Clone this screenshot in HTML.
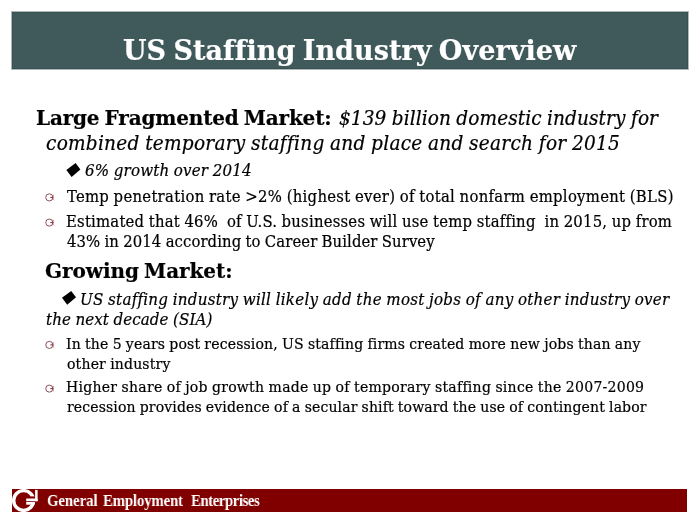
<!DOCTYPE html>
<html lang="en">
<head>
<meta charset="utf-8">
<title>US Staffing Industry Overview</title>
<style>
html,body{margin:0;padding:0;background:#fff;}
body{width:700px;height:525px;position:relative;overflow:hidden;font-family:"DejaVu Serif","Liberation Serif",serif;color:#000;}
.banner{position:absolute;left:12px;top:12px;width:676px;height:57px;background:#405a5c;box-shadow:inset 0 0 0 1px #38514f,0 0 0 1px rgba(56,81,79,.4);}
.foot{position:absolute;left:12px;top:489px;width:675px;height:23px;background:#800000;}
.t{will-change:transform;position:absolute;white-space:pre;line-height:1;margin:0;padding:0;font-weight:normal;font-style:normal;font-family:"DejaVu Serif Condensed","DejaVu Serif","Liberation Serif",serif;word-spacing:-0.03em;-webkit-text-stroke:0.2px #000;}
.title{font-family:"DejaVu Serif","Liberation Serif",serif;color:#fff;font-weight:bold;font-size:27px;word-spacing:-0.08em;-webkit-text-stroke:0.2px #fff;}
.h{font-family:"DejaVu Serif","Liberation Serif",serif;font-weight:bold;font-size:20px;word-spacing:-0.08em;}
.hi{font-style:italic;font-size:20.6px;}
.si{font-style:italic;font-size:16.8px;}
.r{font-size:16.5px;}
.r2{font-size:15.6px;}
.ft{font-family:"Liberation Serif",serif;font-weight:bold;color:#fff;font-size:17.2px;word-spacing:0;transform:scaleX(.86);transform-origin:0 0;-webkit-text-stroke:0;}

</style>
</head>
<body>
<div class="banner"></div>
<div class="foot"></div>
<svg class="x" width="700" height="525" viewBox="0 0 700 525" style="position:absolute;left:0;top:0" aria-hidden="true">
<defs>
<clipPath id="barclip"><rect x="12" y="489" width="675" height="23"/></clipPath>
<g id="gb" fill="none" stroke="#7a3340" stroke-width="0.85">
<circle cx="0" cy="0" r="3.55"/>
<path d="M1 0H3.9" stroke="#8a2436" stroke-width="1"/>
<path d="M3.9 -2.8V2.8" stroke="#a05a5a" stroke-width="0.7"/>
</g>
<polygon id="dm" points="0,6.9 9.2,0 14,6.3 5.2,13.8"/>
</defs>
<use href="#dm" x="66.4" y="163.1" fill="#000"/>
<use href="#dm" x="62" y="290.9" fill="#000"/>
<use href="#gb" x="49.3" y="197.4"/>
<use href="#gb" x="49.3" y="222.6"/>
<use href="#gb" x="49.3" y="344.9"/>
<use href="#gb" x="49.3" y="388.6"/>
<g clip-path="url(#barclip)">
<circle cx="23.6" cy="500.5" r="9.9" fill="none" stroke="#fff" stroke-width="3.4"/>
<rect x="30.5" y="496.4" width="5.2" height="5.6" fill="#800000"/>
<rect x="26.2" y="502" width="8.4" height="2.7" fill="#fff"/>
<rect x="26.2" y="498.5" width="11.4" height="2.7" fill="#fff"/>
<rect x="35.1" y="489.9" width="2.5" height="11.3" fill="#fff"/>
</g>
</svg>

<h1 class="t title" id="title" style="left:122.70px;top:36.60px;letter-spacing:0.060px;">US Staffing Industry Overview</h1>
<h2 class="t h" id="l1a" style="left:35.60px;top:107.60px;letter-spacing:-0.172px;">Large Fragmented Market:</h2>
<p class="t hi" id="l1b" style="left:338.70px;top:107.81px;letter-spacing:0.078px;">$139 billion domestic industry for</p>
<p class="t hi" id="l2" style="left:46.00px;top:133.40px;letter-spacing:0.249px;">combined temporary staffing and place and search for 2015</p>
<p class="t si" id="l3" style="left:85.00px;top:162.40px;letter-spacing:0.161px;">6% growth over 2014</p>
<p class="t r" id="l4" style="left:66.70px;top:189.21px;letter-spacing:0.284px;">Temp penetration rate &gt;2% (highest ever) of total nonfarm employment (BLS)</p>
<p class="t r" id="l5" style="left:65.70px;top:213.90px;letter-spacing:0.222px;">Estimated that 46%  of U.S. businesses will use temp staffing  in 2015, up from</p>
<p class="t r" id="l6" style="left:67.00px;top:234.40px;letter-spacing:0.080px;">43% in 2014 according to Career Builder Survey</p>
<h2 class="t h" id="l7" style="left:45.20px;top:261.10px;letter-spacing:-0.069px;">Growing Market:</h2>
<p class="t si" id="l8" style="left:80.00px;top:290.60px;letter-spacing:0.245px;">US staffing industry will likely add the most jobs of any other industry over</p>
<p class="t si" id="l9" style="left:45.80px;top:310.81px;letter-spacing:0.098px;">the next decade (SIA)</p>
<p class="t r r2" id="l10" style="left:65.70px;top:337.00px;letter-spacing:0.159px;">In the 5 years post recession, US staffing firms created more new jobs than any</p>
<p class="t r r2" id="l11" style="left:66.70px;top:356.81px;letter-spacing:0.170px;">other industry</p>
<p class="t r r2" id="l12" style="left:65.70px;top:380.31px;letter-spacing:0.262px;">Higher share of job growth made up of temporary staffing since the 2007-2009</p>
<p class="t r r2" id="l13" style="left:66.70px;top:400.00px;letter-spacing:0.122px;">recession provides evidence of a secular shift toward the use of contingent labor</p>
<p class="t ft" id="ft1" style="left:46.80px;top:492.31px;letter-spacing:-0.063px;">General</p>
<p class="t ft" id="ft2" style="left:103.30px;top:492.31px;letter-spacing:-0.160px;">Employment</p>
<p class="t ft" id="ft3" style="left:190.70px;top:492.31px;letter-spacing:-0.505px;">Enterprises</p>
</body>
</html>
